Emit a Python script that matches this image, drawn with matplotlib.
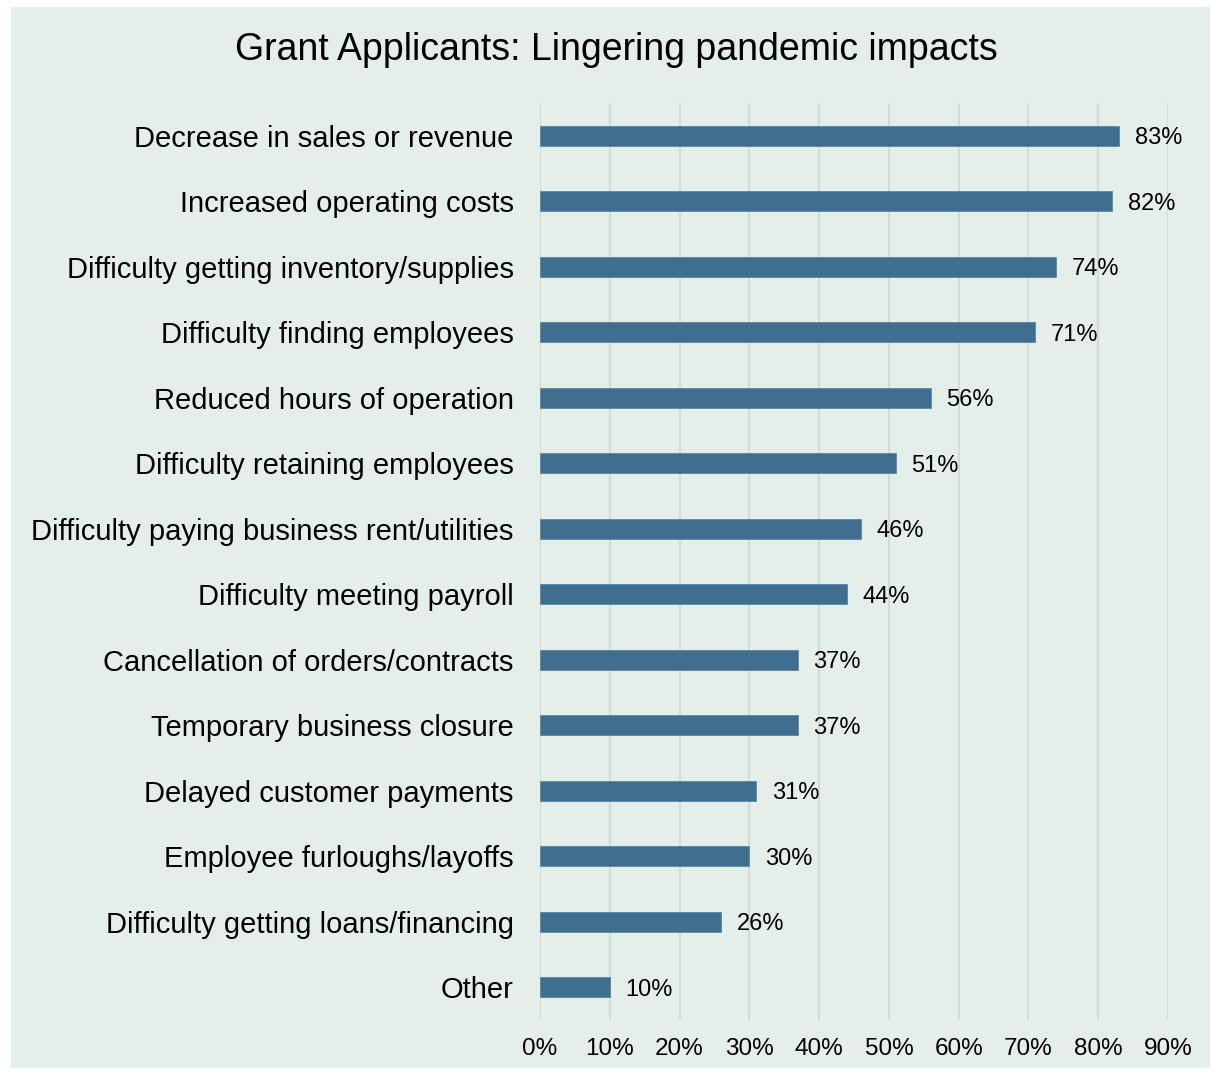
import matplotlib
matplotlib.use('Agg')
import matplotlib.pyplot as plt
from matplotlib.patches import Rectangle

categories = ['Decrease in sales or revenue', 'Increased operating costs',
              'Difficulty getting inventory/supplies', 'Difficulty finding employees',
              'Reduced hours of operation', 'Difficulty retaining employees',
              'Difficulty paying business rent/utilities', 'Difficulty meeting payroll',
              'Cancellation of orders/contracts', 'Temporary business closure',
              'Delayed customer payments', 'Employee furloughs/layoffs',
              'Difficulty getting loans/financing', 'Other']
values = [83, 82, 74, 71, 56, 51, 46, 44, 37, 37, 31, 30, 26, 10]
xticks = [0, 10, 20, 30, 40, 50, 60, 70, 80, 90]

plt.rcParams['font.family'] = ['Liberation Sans', 'DejaVu Sans']
bg = '#E5EFEA'

fig = plt.figure(figsize=(12.11, 10.71), dpi=100, facecolor='white')
fig.patches.append(Rectangle((11/1211, 3/1071), 1199/1211, 1061/1071,
                             transform=fig.transFigure, facecolor=bg,
                             edgecolor='none', zorder=-10))

ax = fig.add_axes([540/1211, 1 - 1020/1071, 628/1211, 917/1071])
ax.set_zorder(1)
ax.patch.set_alpha(0)

y = list(range(len(categories)))
ax.barh(y, values, height=0.3, color='#406E8E', edgecolor='#5A86A6', linewidth=0.6, zorder=3)
for yi, v in zip(y, values):
    ax.text(v + 2.2, yi, f'{v}%', va='center_baseline', ha='left', fontsize=17, color='black')

ax.set_yticks(y)
ax.set_yticklabels(categories, fontsize=21)
ax.set_ylim(len(categories) - 0.5, -0.5)
ax.set_xlim(0, 90)
ax.set_xticks(xticks)
ax.set_xticklabels([f'{t}%' for t in xticks], fontsize=17.5)
ax.tick_params(axis='both', length=0)
ax.tick_params(axis='y', pad=19)
ax.tick_params(axis='x', pad=13)
ax.grid(axis='x', color='#D6D9D6', linewidth=1.5, zorder=0)
for s in ax.spines.values():
    s.set_visible(False)

fig.text(616/1211, 1 - 50/1071, 'Grant Applicants: Lingering pandemic impacts',
         ha='center', va='center', fontsize=27)

fig.savefig('out.png', dpi=100, facecolor='white')
